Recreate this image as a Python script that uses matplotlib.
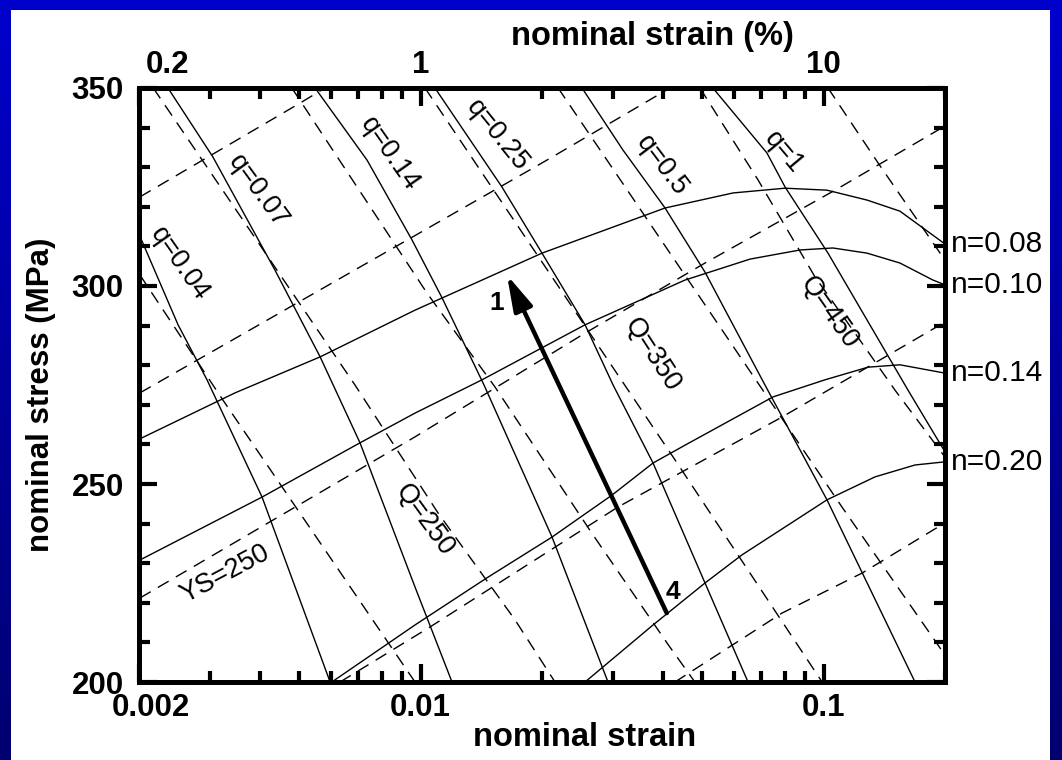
import numpy as np
import matplotlib.pyplot as plt
from matplotlib.patches import Rectangle
from matplotlib.colors import LinearSegmentedColormap
from matplotlib.ticker import MultipleLocator, NullFormatter
from matplotlib.transforms import ScaledTranslation

plt.rcParams['font.family'] = ['Liberation Sans', 'DejaVu Sans']

# solid curves of constant q  (nominal strain, nominal stress MPa)
q004 = [(0.00201, 312.6), (0.00250, 290.2), (0.00295, 276.3), (0.00404, 246.7), (0.00596, 200.0)]
q007 = [(0.00236, 350.0), (0.00305, 332.6), (0.00435, 304.0), (0.00563, 282.1), (0.00707, 260.4),
        (0.00968, 224.0), (0.01196, 200.0)]
q014 = [(0.00547, 350.0), (0.00736, 331.8), (0.00952, 311.6), (0.01130, 297.0), (0.01436, 275.0),
        (0.02118, 236.6), (0.02916, 200.0)]
q025 = [(0.01085, 350.0), (0.01591, 325.0), (0.0200, 308.3), (0.02558, 290.2), (0.03002, 275.0),
        (0.03772, 255.3), (0.05076, 225.0), (0.0649, 200.0)]
q050 = [(0.02514, 350.0), (0.03178, 334.3), (0.0404, 319.7), (0.05076, 303.5), (0.0715, 275.0),
        (0.1019, 246.0), (0.1685, 200.0)]
q100 = [(0.0531, 350.0), (0.0723, 333.6), (0.0802, 325.0), (0.1025, 308.3), (0.1619, 273.7),
        (0.2, 258.1)]

# solid nominal stress-strain curves for several n
n008 = [(0.00201, 261.4), (0.00346, 273.0), (0.00563, 282.1), (0.00968, 293.9), (0.0200, 308.3),
        (0.0404, 319.7), (0.0596, 323.5), (0.0802, 324.7), (0.1019, 324.2), (0.1281, 321.7),
        (0.1546, 318.9), (0.2, 310.6)]
n010 = [(0.00201, 230.8), (0.00404, 246.7), (0.00707, 260.4), (0.00968, 267.9), (0.01419, 276.3),
        (0.02558, 290.2), (0.04527, 301.5), (0.0657, 306.8), (0.0874, 309.1), (0.1054, 309.6),
        (0.1281, 308.3), (0.1546, 305.8), (0.1867, 301.5), (0.2, 300.3)]
n014 = [(0.00602, 200.0), (0.00968, 214.4), (0.0146, 226.3), (0.02118, 236.6), (0.02984, 247.2),
        (0.03772, 255.3), (0.04527, 259.8), (0.0749, 272.0), (0.1007, 276.3), (0.1288, 279.5),
        (0.1546, 280.1), (0.2, 278.0)]
n020 = [(0.02558, 200.0), (0.03772, 214.4), (0.05076, 225.0), (0.0627, 232.1), (0.1019, 246.0),
        (0.1341, 251.8), (0.1685, 254.8), (0.2, 255.6)]

# dashed lines of constant yield stress
ys350 = [(0.00201, 322.5), (0.00502, 346.2), (0.00579, 350.0)]
ys300 = [(0.00201, 273.0), (0.02058, 331.8), (0.04156, 350.0)]
ys250 = [(0.00201, 221.2), (0.00968, 261.9), (0.02558, 288.1), (0.05076, 305.8), (0.1067, 324.2),
         (0.2, 340.4)]
ys200 = [(0.00631, 200.0), (0.01055, 213.9), (0.03088, 244.2), (0.0788, 266.9), (0.2, 290.9)]
ys150 = [(0.04276, 200.0), (0.0788, 217.4), (0.1245, 227.5), (0.2, 240.2)]

# dashed lines of constant Q
Q200 = [(0.00201, 302.8), (0.00323, 271.2), (0.00968, 200.0)]
Q250 = [(0.00217, 350.0), (0.00687, 275.0), (0.01104, 242.7), (0.01714, 215.7), (0.02154, 200.0)]
Q300 = [(0.00479, 350.0), (0.01037, 298.2), (0.01529, 274.5), (0.02662, 237.5), (0.04108, 209.5),
        (0.0479, 200.0)]
Q350 = [(0.01025, 350.0), (0.04276, 256.1), (0.0991, 200.0)]
Q400 = [(0.02193, 350.0), (0.111, 244.2), (0.2, 206.8)]
Q450 = [(0.04932, 350.0), (0.06871, 326.8), (0.09516, 302.3), (0.1196, 288.1), (0.1503, 273.7),
        (0.2, 256.8)]
Q500 = [(0.1025, 350.0), (0.1364, 331.1), (0.2, 306.5)]

# arrow from state 4 to state 1
path_start = (0.0408, 217.4)
path_end = (0.01637, 302.8)

n_labels = ['n=0.08', 'n=0.10', 'n=0.14', 'n=0.20']
bottom_ticks = [0.002, 0.01, 0.1]
bottom_labels = ['0.002', '0.01', '0.1']
top_labels = ['0.2', '1', '10']
y_ticks = [200, 250, 300, 350]

W, H = 1062, 760
fig = plt.figure(figsize=(W / 100, H / 100), dpi=100)

# slide background
bg = fig.add_axes([0, 0, 1, 1], zorder=-5)
grad = np.linspace(0, 1, 256).reshape(-1, 1)
cmap = LinearSegmentedColormap.from_list('slide', ['#0000cc', '#000070'])
bg.imshow(grad, aspect='auto', cmap=cmap, extent=[0, 1, 0, 1], origin='upper')
bg.add_patch(Rectangle((11 / W, 0), (1050 - 11) / W, (H - 10) / H, facecolor='white', edgecolor='none'))
bg.set_xlim(0, 1)
bg.set_ylim(0, 1)
bg.axis('off')

ax = fig.add_axes([139 / W, (H - 682) / H, 806 / W, 594 / H])
ax.set_xscale('log')
ax.set_xlim(0.002, 0.2)
ax.set_ylim(200, 350)

dash = (0, (9, 6))
for pts in [q004, q007, q014, q025, q050, q100, n008, n010, n014, n020]:
    e, s = zip(*pts)
    ax.plot(e, s, color='black', lw=1.0)
for pts in [ys350, ys300, ys250, ys200, ys150, Q200, Q250, Q300, Q350, Q400, Q450, Q500]:
    e, s = zip(*pts)
    ax.plot(e, s, color='black', lw=1.0, linestyle=dash)

ax.annotate('', xy=path_end, xytext=path_start,
            arrowprops=dict(arrowstyle='-|>,head_length=1.2,head_width=0.33', lw=3.2,
                            color='black', mutation_scale=18, shrinkA=0, shrinkB=0))
ax.text(0.01546, 295.7, '1', fontsize=19, fontweight='bold', ha='center', va='center')
ax.text(0.0423, 222.7, '4', fontsize=19, fontweight='bold', ha='center', va='center')

lab = dict(fontsize=19.5, ha='center', va='center', rotation_mode='anchor')
ax.text(0.002514, 305.6, 'q=0.04', rotation=-55, **lab)
ax.text(0.003949, 324.0, 'q=0.07', rotation=-54, **lab)
ax.text(0.008392, 333.3, 'q=0.14', rotation=-55, **lab)
ax.text(0.01546, 338.1, 'q=0.25', rotation=-51, **lab)
ax.text(0.0397, 330.3, 'q=0.5', rotation=-53, **lab)
ax.text(0.0797, 333.8, 'q=1', rotation=-50, **lab)
ax.text(0.01025, 240.9, 'Q=250', rotation=-54, **lab)
ax.text(0.0375, 282.6, 'Q=350', rotation=-57, **lab)
ax.text(0.1031, 293.2, 'Q=450', rotation=-55, **lab)
ax.text(0.00327, 227.3, 'YS=250', rotation=28, **lab)

for name, pts in zip(n_labels, [n008, n010, n014, n020]):
    ax.annotate(name, xy=pts[-1], xytext=(4, 0), textcoords='offset points',
                fontsize=21.5, ha='left', va='center', annotation_clip=False)

ax.set_xticks(bottom_ticks)
ax.set_xticklabels(bottom_labels)
ax.xaxis.set_minor_formatter(NullFormatter())
ax.set_yticks(y_ticks)
ax.yaxis.set_minor_locator(MultipleLocator(10))
ax.tick_params(which='both', direction='in', top=False, right=True, width=3)
ax.tick_params(which='major', length=13, labelsize=22.5)
ax.tick_params(which='minor', length=8)
ax.tick_params(axis='x', pad=8)
ax.tick_params(axis='y', pad=11)
for t in ax.get_xticklabels() + ax.get_yticklabels():
    t.set_fontweight('bold')

ax2 = ax.twiny()
ax2.set_xscale('log')
ax2.set_xlim(ax.get_xlim())
ax2.set_xticks(bottom_ticks)
ax2.set_xticklabels(top_labels)
ax2.xaxis.set_minor_formatter(NullFormatter())
ax2.tick_params(which='both', direction='in', width=3, pad=6)
ax2.tick_params(which='major', length=13, labelsize=22.5)
ax2.tick_params(which='minor', length=8)
for t in ax2.get_xticklabels():
    t.set_fontweight('bold')

for a in (ax, ax2):
    for sp in a.spines.values():
        sp.set_linewidth(3.5)

# corner labels nudged right as in the original
first_bottom = ax.xaxis.get_major_ticks()[0].label1
first_bottom.set_transform(first_bottom.get_transform() + ScaledTranslation(0.12, 0, fig.dpi_scale_trans))
first_top = ax2.xaxis.get_major_ticks()[0].label2
first_top.set_horizontalalignment('left')
first_top.set_transform(first_top.get_transform() + ScaledTranslation(0.07, 0, fig.dpi_scale_trans))

ax.set_xlabel('nominal strain', fontsize=23.5, fontweight='bold')
ax.xaxis.set_label_coords((585 - 139) / 806, (682 - 722) / 594)
ax.set_ylabel('nominal stress (MPa)', fontsize=22.5, fontweight='bold')
ax.yaxis.set_label_coords((56 - 139) / 806, (682 - 395) / 594)
ax2.set_xlabel('nominal strain (%)', fontsize=23.5, fontweight='bold')
ax2.xaxis.set_label_coords((652 - 139) / 806, (682 - 45) / 594)

fig.savefig('out.png', dpi=100)
